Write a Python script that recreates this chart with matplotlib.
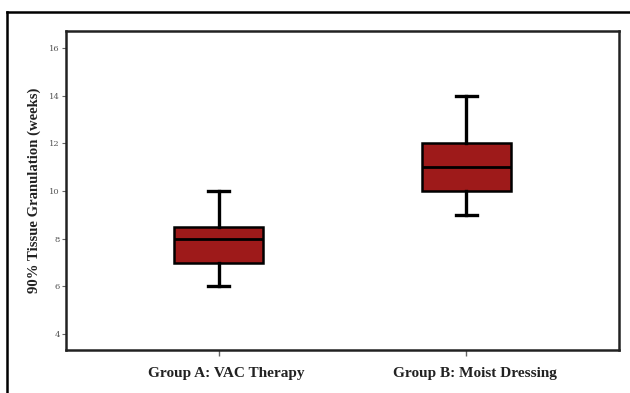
import matplotlib
matplotlib.use("Agg")
import matplotlib.pyplot as plt
from matplotlib.lines import Line2D
from matplotlib.transforms import ScaledTranslation

groups = ["Group A: VAC Therapy", "Group B: Moist Dressing"]
whislo = [6, 9]
q1 = [7, 10]
med = [8, 11]
q3 = [8.5, 12]
whishi = [10, 14]
yticks = [4, 6, 8, 10, 12, 14, 16]

fig = plt.figure(figsize=(6.3, 3.93), dpi=100)
W, H = 630, 393
ax = fig.add_axes([66 / W, 1 - 350 / H, (619 - 66) / W, (350 - 31) / H])

stats = []
for i, g in enumerate(groups):
    stats.append(dict(label=g, whislo=whislo[i], q1=q1[i], med=med[i],
                      q3=q3[i], whishi=whishi[i], fliers=[]))

ax.bxp(stats, positions=[1, 2], widths=0.36, patch_artist=True,
       showfliers=False, capwidths=0.088,
       boxprops=dict(facecolor="#9e1a1a", edgecolor="black", linewidth=1.8),
       medianprops=dict(color="black", linewidth=2.0),
       whiskerprops=dict(color="black", linewidth=2.4),
       capprops=dict(color="black", linewidth=2.4))

ax.set_xlim(0.385, 2.615)
ax.set_ylim(3.33, 16.71)
ax.set_yticks(yticks)
ax.set_yticklabels([str(t) for t in yticks], fontsize=6, color="#555555",
                   family="DejaVu Serif")
ax.set_xticks([1, 2])
ax.set_xticklabels(groups, fontsize=11, fontweight="bold",
                   family="Liberation Serif", color="#222222")
ax.tick_params(axis="y", length=3, width=0.8, color="#666666", pad=1.5)
ax.tick_params(axis="x", length=4, width=1.0, color="#666666", pad=8.5)
shift = ScaledTranslation(8 / 100, 0, fig.dpi_scale_trans)
for lbl in ax.get_xticklabels():
    lbl.set_transform(lbl.get_transform() + shift)
for s in ax.spines.values():
    s.set_linewidth(1.8)
    s.set_color("#222222")
ax.set_ylabel("90% Tissue Granulation (weeks)", fontsize=10.6, fontweight="bold",
              family="Liberation Serif", color="#222222", labelpad=6)

# outer frame lines (top and left)
fig.add_artist(Line2D([7 / W, 1.0], [1 - 12 / H, 1 - 12 / H], color="black",
                      linewidth=1.8, transform=fig.transFigure))
fig.add_artist(Line2D([7 / W, 7 / W], [0.0, 1 - 12 / H], color="black",
                      linewidth=1.8, transform=fig.transFigure))

fig.savefig("out.png", dpi=100)
